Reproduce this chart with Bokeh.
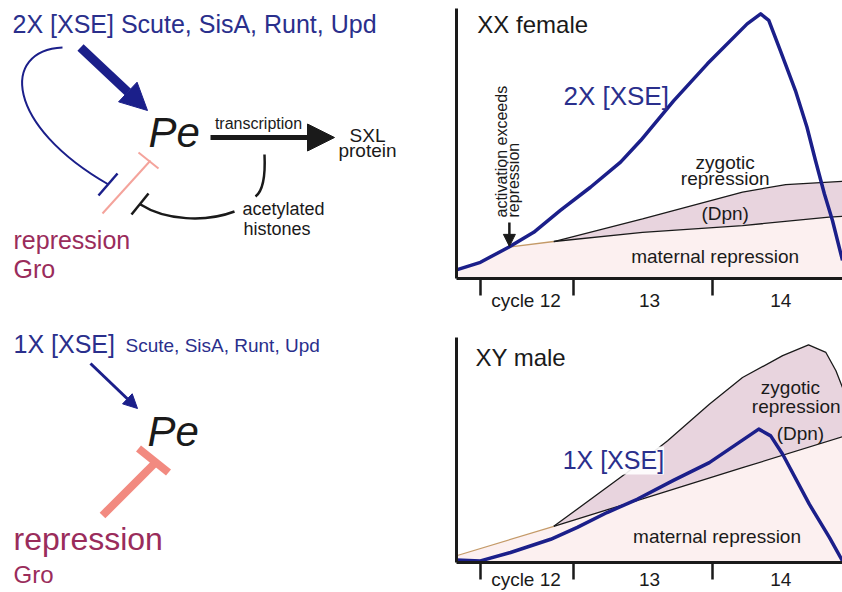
import math
from bokeh.plotting import figure
from bokeh.layouts import row, column
from bokeh.models import Range1d, FixedTicker, Label, Arrow, NormalHead
from bokeh.embed import file_html
from bokeh.resources import INLINE

# ---------------- data (time in arbitrary units, level in arbitrary units) ----------------
CYCLE_BOUNDS = [6.2, 30.4, 66.3]          # cycle boundaries (tick marks)
CYCLE_MIDS = [18, 50, 84]                 # label positions
CYCLE_LABELS = ["cycle 12", "13", "14"]

# XX female
F_XSE_T = [0, 6.2, 13.5, 20.0, 26.9, 34.7, 42.5, 47.7, 56.3, 65.0, 75.3, 78.8, 80.9, 83.9, 87.8, 90.8, 93.0, 95.3, 97.4, 100]
F_XSE_V = [3.2, 6.0, 11.6, 17.1, 25.2, 33.8, 43.1, 51.1, 65.9, 79.5, 94.3, 98.0, 95.6, 84.4, 69.6, 56.0, 43.7, 31.4, 21.5, 6.7]
F_MAT_T = [0, 6.2, 13.5, 25.2, 48.2, 74.1, 96.5, 100]
F_MAT_V = [3.2, 6.0, 11.6, 13.7, 17.1, 19.6, 22.7, 23.0]
F_ZYG_T = [25.2, 48.2, 74.1, 85.3, 100]
F_ZYG_V = [13.7, 22.1, 32.0, 34.8, 36.0]

# XY male
M_XSE_T = [0, 6.2, 14.0, 24.4, 31.3, 39.0, 46.8, 56.2, 65.5, 78.3, 81.4, 84.5, 91.4, 96.6, 100]
M_XSE_V = [0.9, 0.6, 3.7, 8.6, 13.0, 18.5, 23.4, 30.4, 37.0, 49.4, 46.9, 40.1, 21.6, 9.3, 0.6]
M_MAT_T = [0, 25.2, 48.2, 74.1, 100]
M_MAT_V = [2.5, 13.4, 23.6, 35.1, 46.6]
M_ZYG_T = [25.2, 44.2, 54.7, 65.5, 74.1, 84.5, 91.2, 95.7, 98.3, 100]
M_ZYG_V = [13.4, 33.3, 45.1, 58.6, 68.5, 76.6, 80.6, 77.8, 71.0, 64.8]

# ---------------- styles ----------------
FONT = "Liberation Sans"
BLUE_TXT = "#2a2f8c"
NAVY = "#1b1f8a"
ROSE = "#9a2c5b"
PINK = "#f4a39b"
PINK_THICK = "#f28a80"
DARK = "#1a1a1a"
ZYG_FILL = "#e8d4de"
MAT_FILL = "#fcf0f0"
TAN = "#c49a68"


def lab(p, x, y, text, size, color=DARK, align="left", style="normal", angle=0.0, **kw):
    p.add_layout(Label(x=x, y=y, text=text, text_font=FONT,
                       text_font_size=f"{size}px", text_color=color,
                       text_align=align, text_baseline="middle",
                       text_font_style=style, angle=angle, **kw))


def arrow(p, x0, y0, x1, y1, color, width, size):
    p.add_layout(Arrow(end=NormalHead(size=size, fill_color=color, line_color=color),
                       x_start=x0, y_start=y0, x_end=x1, y_end=y1,
                       line_color=color, line_width=width))


# ---------------- left diagram ----------------
L = figure(width=448, height=592, x_range=Range1d(0, 448), y_range=Range1d(592, 0),
           output_backend="svg", toolbar_location=None, min_border=0,
           x_axis_location=None, y_axis_location=None)
L.outline_line_color = None
L.grid.visible = False

# top diagram (2X)
lab(L, 12, 23.5, "2X [XSE] Scute, SisA, Runt, Upd", 25, BLUE_TXT)
arrow(L, 80, 47, 147, 110, NAVY, 9, 27)
L.bezier(x0=[62], y0=[47], x1=[108], y1=[184], cx0=[0], cy0=[50], cx1=[5], cy1=[125],
         line_color=NAVY, line_width=2)
L.segment(x0=[98], y0=[195], x1=[117], y1=[173], line_color=NAVY, line_width=2.5)
lab(L, 148, 132, "Pe", 42, DARK, style="italic")
arrow(L, 210, 137, 334, 137, DARK, 5, 27)
lab(L, 258, 122.5, "transcription", 16, DARK, align="center")
lab(L, 367, 135, "SXL", 19, DARK, align="center")
lab(L, 367, 150, "protein", 19, DARK, align="center")
L.segment(x0=[102], y0=[213], x1=[150], y1=[160], line_color=PINK, line_width=2)
L.segment(x0=[138], y0=[152], x1=[158], y1=[168], line_color=PINK, line_width=2)
L.bezier(x0=[264], y0=[154], x1=[255], y1=[196], cx0=[265], cy0=[175], cx1=[263], cy1=[190],
         line_color=DARK, line_width=2.5)
L.bezier(x0=[234], y0=[211], x1=[140], y1=[204], cx0=[205], cy0=[222], cx1=[165], cy1=[220],
         line_color=DARK, line_width=2.5)
L.segment(x0=[131], y0=[214], x1=[148], y1=[193], line_color=DARK, line_width=2.5)
lab(L, 242, 208.5, "acetylated", 18, DARK)
lab(L, 243, 228.5, "histones", 18, DARK)
lab(L, 13, 239, "repression", 25, ROSE)
lab(L, 13, 268, "Gro", 25, ROSE)

# bottom diagram (1X)
lab(L, 13, 343, "1X [XSE]", 25, BLUE_TXT)
lab(L, 125, 345, "Scute, SisA, Runt, Upd", 19, BLUE_TXT)
arrow(L, 90, 363, 137, 408, NAVY, 3, 14)
lab(L, 147, 430.5, "Pe", 42, DARK, style="italic")
L.segment(x0=[102], y0=[515], x1=[155], y1=[462], line_color=PINK_THICK, line_width=8)
L.segment(x0=[138], y0=[448], x1=[168], y1=[472], line_color=PINK_THICK, line_width=8)
lab(L, 13, 538.5, "repression", 32, ROSE)
lab(L, 13, 574, "Gro", 24, ROSE)

# ---------------- charts ----------------
PX_PER_UNIT = 2.7


def chart(height, ymax, b_top, b_bottom, standoff):
    p = figure(width=394, height=height, x_range=Range1d(0, 100), y_range=Range1d(0, ymax),
               output_backend="svg", toolbar_location=None,
               min_border_left=8, min_border_right=0,
               min_border_top=b_top, min_border_bottom=b_bottom)
    p.outline_line_color = None
    p.grid.visible = False
    xa = p.xaxis[0]
    xa.ticker = FixedTicker(ticks=CYCLE_MIDS, minor_ticks=CYCLE_BOUNDS)
    xa.major_label_overrides = dict(zip(CYCLE_MIDS, CYCLE_LABELS))
    xa.major_tick_out = 0
    xa.major_tick_in = 0
    xa.minor_tick_out = 17
    xa.minor_tick_in = 0
    xa.minor_tick_line_width = 2.5
    xa.minor_tick_line_color = DARK
    xa.axis_line_width = 3
    xa.axis_line_color = DARK
    xa.major_label_text_font = FONT
    xa.major_label_text_font_size = "19px"
    xa.major_label_text_color = DARK
    xa.major_label_standoff = standoff
    ya = p.yaxis[0]
    ya.ticker = FixedTicker(ticks=[])
    ya.major_tick_out = 0
    ya.minor_tick_out = 0
    ya.major_label_text_font_size = "0px"
    ya.major_label_standoff = 0
    ya.axis_line_width = 3
    ya.axis_line_color = DARK
    return p


# XX female
T = chart(320, 270 / PX_PER_UNIT, 8, 42, -6)
T.patch(F_MAT_T + [100, 0], F_MAT_V + [0, 0], fill_color=MAT_FILL, line_color=None)
T.patch(F_ZYG_T + F_MAT_T[3:][::-1], F_ZYG_V + F_MAT_V[3:][::-1], fill_color=ZYG_FILL, line_color=None)
T.line(F_MAT_T[2:4], F_MAT_V[2:4], line_color=TAN, line_width=1.3)
T.line(F_MAT_T[3:], F_MAT_V[3:], line_color=DARK, line_width=1.3)
T.line(F_ZYG_T, F_ZYG_V, line_color=DARK, line_width=1.3)
T.line(F_XSE_T, F_XSE_V, line_color=NAVY, line_width=3.5, line_join="round")
lab(T, 5.4, 93.9, "XX female", 24, DARK)
lab(T, 27.7, 67.6, "2X [XSE]", 26, BLUE_TXT)
lab(T, 69.6, 42.9, "zygotic", 19, DARK, align="center")
lab(T, 69.6, 37.0, "repression", 19, DARK, align="center")
lab(T, 69.6, 24.0, "(Dpn)", 19, DARK, align="center")
lab(T, 67.0, 8.2, "maternal repression", 19, DARK, align="center")
lab(T, 11.7, 22.6, "activation exceeds", 16, DARK, angle=math.pi / 2)
lab(T, 14.8, 22.6, "repression", 16, DARK, angle=math.pi / 2)
arrow(T, 13.7, 20.7, 13.7, 11.9, DARK, 2.5, 12)

# XY male
B = chart(272, 225 / PX_PER_UNIT, 17, 30, -11)
B.patch(M_MAT_T + [100, 0], M_MAT_V + [0, 0], fill_color=MAT_FILL, line_color=None)
B.patch(M_ZYG_T + M_MAT_T[1:][::-1], M_ZYG_V + M_MAT_V[1:][::-1], fill_color=ZYG_FILL, line_color=None)
B.line(M_MAT_T[:2], M_MAT_V[:2], line_color=TAN, line_width=1.3)
B.line(M_MAT_T[1:], M_MAT_V[1:], line_color=DARK, line_width=1.3)
B.line(M_ZYG_T, M_ZYG_V, line_color=DARK, line_width=1.3)
B.line(M_XSE_T, M_XSE_V, line_color=NAVY, line_width=3.5, line_join="round")
lab(B, 4.9, 76.1, "XY male", 24, DARK)
lab(B, 27.5, 37.8, "1X [XSE]", 25, BLUE_TXT,
    background_fill_color="white", background_fill_alpha=0.9)
lab(B, 86.5, 64.9, "zygotic", 19, DARK, align="center")
lab(B, 88.0, 57.7, "repression", 19, DARK, align="center")
lab(B, 89.1, 47.8, "(Dpn)", 19, DARK, align="center")
lab(B, 67.5, 9.6, "maternal repression", 19, DARK, align="center")

layout = row(L, column(T, B))
open("out.html", "w").write(file_html(layout, INLINE))
